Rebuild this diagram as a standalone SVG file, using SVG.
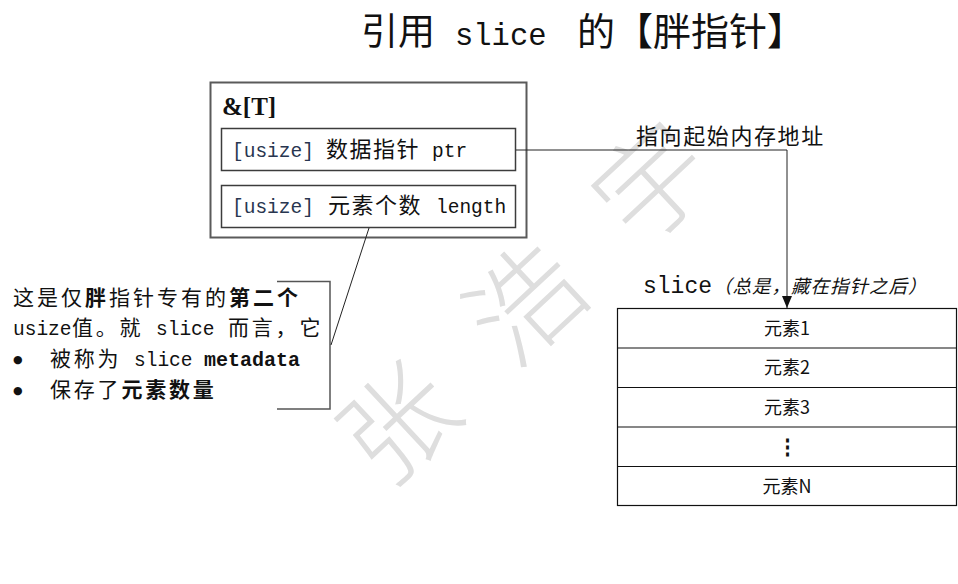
<svg xmlns="http://www.w3.org/2000/svg" width="958" height="584" viewBox="0 0 958 584">
<style>
  .cjk { font-family: "Noto Sans CJK SC", sans-serif; fill: #111; }
  .mono { font-family: "Liberation Mono", "Noto Sans CJK SC", monospace; fill: #111; }
  .serifb { font-family: "Liberation Serif", "Noto Sans CJK SC", serif; font-weight: bold; fill: #111; }
  .blue { fill: #283650; }
  .b { font-weight: bold; }
  .bul { font-family: "DejaVu Sans", sans-serif; font-size: 11px; fill: #111; }
  .wm { font-family: "Noto Sans CJK SC", sans-serif; font-weight: 300; fill: #dedede; font-size: 112px; }
  .outer { fill: #fff; stroke: #5a5a5a; stroke-width: 2; }
  .inner { fill: none; stroke: #3c3c3c; stroke-width: 1.5; }
  .cell { fill: none; stroke: #111; stroke-width: 1.2; }
  .conn { fill: none; stroke: #222; stroke-width: 1; }
  .brk { fill: none; stroke: #555; stroke-width: 1.5; }
</style>
<defs>
  <marker id="arrow" markerUnits="userSpaceOnUse" markerWidth="12" markerHeight="10" viewBox="0 0 12 10" refX="12" refY="5" orient="auto">
    <path d="M0,0 L12,5 L0,10 z" fill="#111"/>
  </marker>
</defs>
<rect width="958" height="584" fill="#fff"/>

<g id="watermark">
  <text class="wm" x="393" y="417" text-anchor="middle" dominant-baseline="central" transform="rotate(-43 393 417)">张</text>
  <text class="wm" x="520" y="297" text-anchor="middle" dominant-baseline="central" transform="rotate(-43 520 297)">浩</text>
  <text class="wm" x="647" y="177" text-anchor="middle" dominant-baseline="central" transform="rotate(-43 647 177)">宇</text>
</g>

<g id="title">
  <text y="45" font-size="37">
    <tspan class="cjk" x="361">引用</tspan>
    <tspan class="mono" x="455" font-size="30.5">slice</tspan>
    <tspan class="cjk" x="577" font-size="38">的【胖指针】</tspan>
  </text>
</g>

<g id="node-ref">
  <rect class="outer" x="210.5" y="82.5" width="316" height="155"/>
  <text class="serifb" x="222" y="115" font-size="25">&amp;[T]</text>
</g>

<g id="node-ptr">
  <rect class="inner" x="221.5" y="128.5" width="294" height="42"/>
  <text y="157">
    <tspan class="mono blue" x="232" font-size="19.5">[usize]</tspan>
    <tspan class="cjk" x="326" font-size="22" letter-spacing="1.5">数据指针</tspan>
    <tspan class="mono" x="432" font-size="19.5">ptr</tspan>
  </text>
</g>

<g id="node-len">
  <rect class="inner" x="221.5" y="185.5" width="294" height="42"/>
  <text y="213">
    <tspan class="mono blue" x="232" font-size="19.5">[usize]</tspan>
    <tspan class="cjk" x="328" font-size="22" letter-spacing="1.5">元素个数</tspan>
    <tspan class="mono" x="436" font-size="19.5">length</tspan>
  </text>
</g>

<g id="node-note">
  <path class="brk" d="M277 281.5 H330 V409 H277"/>
  <text y="305" font-size="21">
    <tspan class="cjk" x="13" letter-spacing="3">这是仅</tspan><tspan class="cjk b" letter-spacing="3">胖</tspan><tspan class="cjk" letter-spacing="3">指针专有的</tspan><tspan class="cjk b" letter-spacing="3">第二个</tspan>
  </text>
  <text y="335" font-size="21">
    <tspan class="mono" x="13" font-size="19.5">usize</tspan>
    <tspan class="cjk" x="72" letter-spacing="2.8">值。就</tspan>
    <tspan class="mono" x="156" font-size="19.5">slice</tspan>
    <tspan class="cjk" x="228" letter-spacing="2.8">而言，它</tspan>
  </text>
  <text class="bul" x="13" y="363">●</text>
  <text y="366" font-size="21">
    <tspan class="cjk" x="50" letter-spacing="2.8">被称为</tspan>
    <tspan class="mono" x="134" font-size="19.5">slice</tspan>
    <tspan class="mono b" x="204" font-size="20">metadata</tspan>
  </text>
  <text class="bul" x="13" y="394">●</text>
  <text y="397" font-size="21">
    <tspan class="cjk" x="50" letter-spacing="2.8">保存了</tspan><tspan class="cjk b" letter-spacing="2.8">元素数量</tspan>
  </text>
</g>

<g id="node-slice">
  <text y="293">
    <tspan class="mono" x="643" font-size="23">slice</tspan>
    <tspan class="cjk" x="713" font-size="18.5" font-style="italic" fill="#333" letter-spacing="1">（总是，藏在指针之后）</tspan>
  </text>
  <rect class="cell" x="617.5" y="308.5" width="339" height="197"/>
  <line class="cell" x1="617.5" y1="348" x2="956.5" y2="348"/>
  <line class="cell" x1="617.5" y1="387.5" x2="956.5" y2="387.5"/>
  <line class="cell" x1="617.5" y1="427" x2="956.5" y2="427"/>
  <line class="cell" x1="617.5" y1="466.5" x2="956.5" y2="466.5"/>
  <g class="cjk" font-size="18" text-anchor="middle">
    <text x="787" y="335">元素1</text>
    <text x="787" y="374">元素2</text>
    <text x="787" y="414">元素3</text>
    <text x="787" y="454" font-size="21" font-weight="bold">⋮</text>
    <text x="787" y="493">元素N</text>
  </g>
</g>

<g id="connectors">
  <path class="conn" d="M516 150 H787 V308" marker-end="url(#arrow)"/>
  <text class="cjk" x="636" y="144" font-size="22" letter-spacing="1.6">指向起始内存地址</text>
  <path class="conn" d="M369 228 L331 345"/>
</g>
</svg>
